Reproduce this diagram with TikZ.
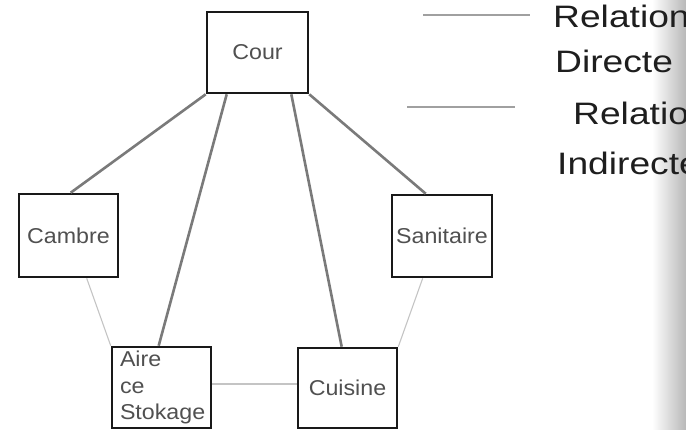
\documentclass[tikz,border=0pt]{standalone}
\usepackage{fontspec}
\setmainfont{Liberation Sans}
\newfontfamily\legendfont[FakeStretch=1.2]{Liberation Sans}
\newfontfamily\roomfont[FakeStretch=1.08]{Liberation Sans}
\usetikzlibrary{calc}
\definecolor{boxtext}{HTML}{505050}
\definecolor{thickgray}{HTML}{7A7A7A}
\definecolor{thingray}{HTML}{C4C4C4}
\definecolor{leggray}{HTML}{A0A0A0}
\definecolor{legtext}{HTML}{1E1E1E}
\tikzset{
  room/.style={draw=black!90, line width=2.6pt, fill=white, inner sep=0pt,
    font=\roomfont\fontsize{21.5}{26.5}\selectfont, text=boxtext},
  direct/.style={draw=thickgray, line width=2.6pt},
  indirect/.style={draw=thingray, line width=1.1pt},
  legline/.style={draw=leggray, line width=1.3pt},
  legtxt/.style={anchor=base west, inner sep=0pt, text=legtext,
    font=\legendfont\fontsize{31}{36}\selectfont}
}
\begin{document}
\begin{tikzpicture}[x=1pt,y=-1pt]
\useasboundingbox (0,0) rectangle (686,430);
\shade[left color=white, right color=black!28] (652,0) rectangle (686,430);
\node[room, minimum width=101pt, minimum height=81pt] (cour) at (257.5,52.5) {Cour};
\node[room, minimum width=99pt, minimum height=83pt] (cambre) at (68.5,235.5) {Cambre};
\node[room, minimum width=100pt, minimum height=82pt] (sanitaire) at (442,236) {Sanitaire};
\node[room, minimum width=99pt, minimum height=81pt, text width=83pt, align=left] (aire) at (161.5,387.5) {Aire\\ce\\Stokage};
\node[room, minimum width=99pt, minimum height=80pt] (cuisine) at (347.5,388) {Cuisine};
\draw[direct] (cour.south west) -- ($(cambre.north west)+(53,0)$);
\draw[direct] ($(cour.south west)+(21,0)$) -- ($(aire.north west)+(48,0)$);
\draw[direct] ($(cour.south east)+(-18,0)$) -- ($(cuisine.north west)+(45,0)$);
\draw[direct] (cour.south east) -- ($(sanitaire.north west)+(35,0)$);
\draw[indirect] ($(cambre.south west)+(69,0)$) -- (aire.north west);
\draw[indirect] ($(sanitaire.south west)+(32,0)$) -- (cuisine.north east);
\draw[indirect] ($(aire.east)+(0,-3.5)$) -- ($(cuisine.west)+(0,-4)$);
% legend
\coordinate (l1a) at (423,15);
\coordinate (l1b) at (530,15);
\coordinate (l2a) at (407,107);
\coordinate (l2b) at (515,107);
\draw[legline] (l1a) -- (l1b);
\draw[legline] (l2a) -- (l2b);
\node[legtxt] (t1) at (553,28) {Relation};
\node[legtxt] (t2) at (555,73) {Directe};
\node[legtxt] (t3) at (573,125) {Relation};
\node[legtxt] (t4) at (557,175) {Indirecte};
\end{tikzpicture}
\end{document}
